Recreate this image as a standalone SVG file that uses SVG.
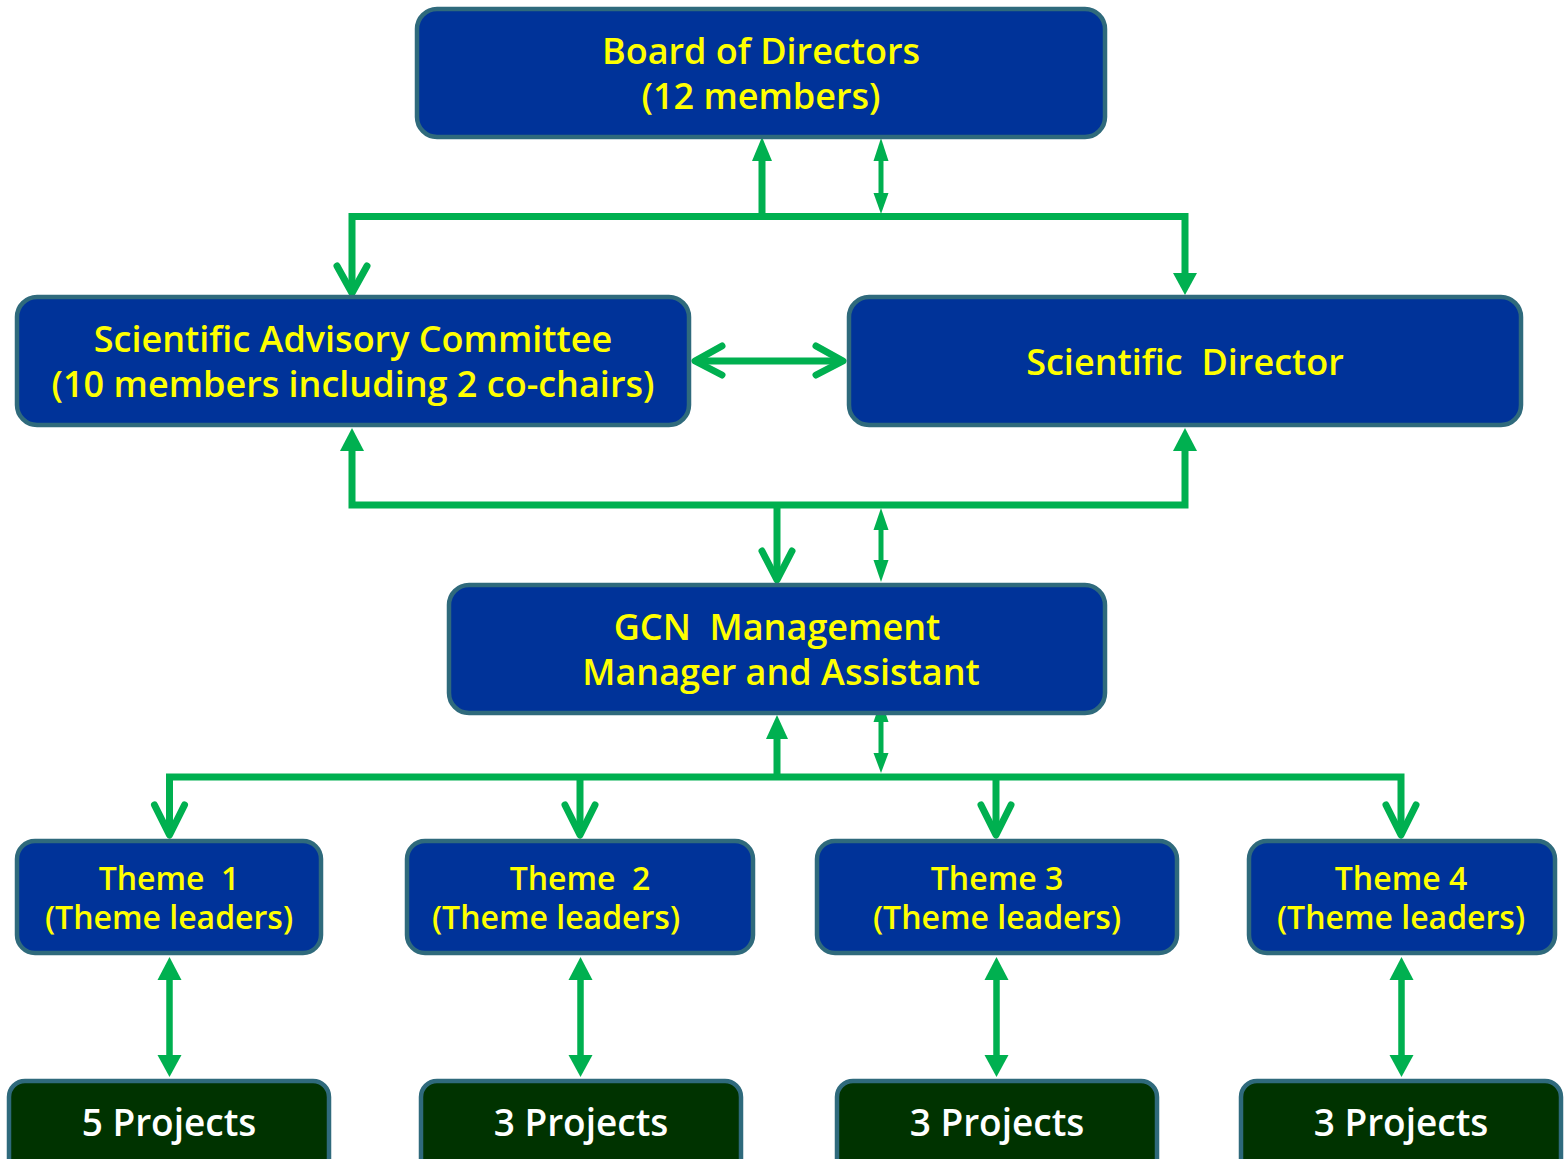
<svg xmlns="http://www.w3.org/2000/svg" width="1564" height="1159" viewBox="0 0 1564 1159">
<style>
.box{fill:#003399;stroke:#2F6A7C;stroke-width:4.5}
.proj{fill:#003300;stroke:#2F6A7C;stroke-width:4.5}
.t{font-family:"Open Sans","Liberation Sans",sans-serif;font-weight:600;fill:#FFFF00;text-anchor:middle;white-space:pre}
.big{font-size:36px}
.th{font-size:32px}
.pt{font-family:"Open Sans","Liberation Sans",sans-serif;font-weight:600;fill:#FFFFFF;text-anchor:middle;font-size:37px}
.ln{stroke:#00B050;stroke-width:7;fill:none}
.thin{stroke:#00B050;stroke-width:5;fill:none}
.mid{stroke:#00B050;stroke-width:6.5;fill:none}
.v{stroke:#00B050;stroke-width:7;fill:none;stroke-linecap:round;stroke-linejoin:round}
.h{fill:#00B050}
</style>
<g id="connectors">
  <polyline class="ln" points="352,292 352,216.5 1185,216.5 1185,276"/>
  <line class="ln" x1="762" y1="216" x2="762" y2="158"/>
  <path class="h" d="M762,137 L772,161 L752,161 Z"/>
  <polyline class="v" points="337,266 352,293 367,266"/>
  <path class="h" d="M1185,295 L1173,273 L1197,273 Z"/>
  <line class="thin" x1="881" y1="158" x2="881" y2="196"/>
  <path class="h" d="M881,138 L888.5,161 L873.5,161 Z"/>
  <path class="h" d="M881,214 L888.5,193 L873.5,193 Z"/>
  <line class="ln" x1="697" y1="361" x2="842" y2="361"/>
  <polyline class="v" points="722,346 695,361 722,375"/>
  <polyline class="v" points="816,346 843,361 816,375"/>
  <polyline class="ln" points="352,448 352,505 1185,505 1185,448"/>
  <path class="h" d="M352,428 L364,451 L340,451 Z"/>
  <path class="h" d="M1185,428 L1197,451 L1173,451 Z"/>
  <line class="ln" x1="777" y1="505" x2="777" y2="578"/>
  <polyline class="v" points="762,551 777,580 792,551"/>
  <line class="thin" x1="881" y1="525" x2="881" y2="565"/>
  <path class="h" d="M881,508 L888.5,530 L873.5,530 Z"/>
  <path class="h" d="M881,582 L888.5,560 L873.5,560 Z"/>
  <polyline class="ln" points="169.5,834 169.5,777 1401,777 1401,834"/>
  <line class="ln" x1="777" y1="777" x2="777" y2="735"/>
  <path class="h" d="M777,715 L788,739 L766,739 Z"/>
  <line class="thin" x1="881" y1="718" x2="881" y2="757"/>
  <path class="h" d="M881,700 L888.5,722 L873.5,722 Z"/>
  <path class="h" d="M881,773 L888.5,753 L873.5,753 Z"/>
  <line class="ln" x1="580" y1="777" x2="580" y2="834"/>
  <line class="ln" x1="996" y1="777" x2="996" y2="834"/>
  <polyline class="v" points="154.5,805 169.5,835 184.5,805"/>
  <polyline class="v" points="565,805 580,835 595,805"/>
  <polyline class="v" points="981,805 996,835 1011,805"/>
  <polyline class="v" points="1386,805 1401,835 1416,805"/>
  <line class="mid" x1="169.5" y1="975" x2="169.5" y2="1060"/>
  <path class="h" d="M169.5,957 L181.5,980 L157.5,980 Z"/>
  <path class="h" d="M169.5,1077 L181.5,1055 L157.5,1055 Z"/>
  <line class="mid" x1="580.5" y1="975" x2="580.5" y2="1060"/>
  <path class="h" d="M580.5,957 L592.5,980 L568.5,980 Z"/>
  <path class="h" d="M580.5,1077 L592.5,1055 L568.5,1055 Z"/>
  <line class="mid" x1="996.5" y1="975" x2="996.5" y2="1060"/>
  <path class="h" d="M996.5,957 L1008.5,980 L984.5,980 Z"/>
  <path class="h" d="M996.5,1077 L1008.5,1055 L984.5,1055 Z"/>
  <line class="mid" x1="1401.5" y1="975" x2="1401.5" y2="1060"/>
  <path class="h" d="M1401.5,957 L1413.5,980 L1389.5,980 Z"/>
  <path class="h" d="M1401.5,1077 L1413.5,1055 L1389.5,1055 Z"/>
</g>
<g id="board">
  <rect class="box" x="417" y="9" width="688" height="128" rx="20"/>
  <text class="t big" x="761" y="64">Board of Directors</text>
  <text class="t big" x="761" y="109">(12 members)</text>
</g>
<g id="sac">
  <rect class="box" x="17" y="297" width="672" height="128" rx="20"/>
  <text class="t big" x="353" y="352">Scientific Advisory Committee</text>
  <text class="t big" x="353" y="397">(10 members including 2 co-chairs)</text>
</g>
<g id="sd">
  <rect class="box" x="849" y="297" width="672" height="128" rx="20"/>
  <text class="t big" x="1185" y="375">Scientific  Director</text>
</g>
<g id="gcn">
  <rect class="box" x="449" y="585" width="656" height="128" rx="20"/>
  <text class="t big" x="777" y="640">GCN  Management</text>
  <text class="t big" x="781" y="685">Manager and Assistant</text>
</g>
<g id="theme1">
  <rect class="box" x="17" y="841" width="304" height="112" rx="18"/>
  <text class="t th" x="169" y="890">Theme  1</text>
  <text class="t th" x="169" y="929">(Theme leaders)</text>
</g>
<g id="theme2">
  <rect class="box" x="407" y="841" width="346" height="112" rx="18"/>
  <text class="t th" x="580" y="890">Theme  2</text>
  <text class="t th" x="556" y="929">(Theme leaders)</text>
</g>
<g id="theme3">
  <rect class="box" x="817" y="841" width="360" height="112" rx="18"/>
  <text class="t th" x="997" y="890">Theme 3</text>
  <text class="t th" x="997" y="929">(Theme leaders)</text>
</g>
<g id="theme4">
  <rect class="box" x="1249" y="841" width="306" height="112" rx="18"/>
  <text class="t th" x="1401" y="890">Theme 4</text>
  <text class="t th" x="1401" y="929">(Theme leaders)</text>
</g>
<g id="proj1">
  <rect class="proj" x="9" y="1081" width="320" height="100" rx="16"/>
  <text class="pt" x="169" y="1136">5 Projects</text>
</g>
<g id="proj2">
  <rect class="proj" x="421" y="1081" width="320" height="100" rx="16"/>
  <text class="pt" x="581" y="1136">3 Projects</text>
</g>
<g id="proj3">
  <rect class="proj" x="837" y="1081" width="320" height="100" rx="16"/>
  <text class="pt" x="997" y="1136">3 Projects</text>
</g>
<g id="proj4">
  <rect class="proj" x="1241" y="1081" width="320" height="100" rx="16"/>
  <text class="pt" x="1401" y="1136">3 Projects</text>
</g>
</svg>
